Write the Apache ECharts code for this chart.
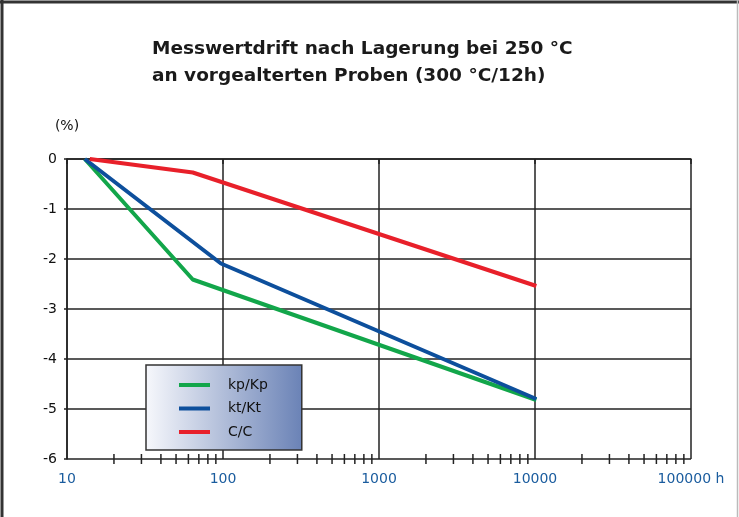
<!DOCTYPE html>
<html>
<head>
<meta charset="utf-8">
<script src="https://cdn.jsdelivr.net/npm/echarts@6/dist/echarts.min.js"></script>
<style>html,body{margin:0;padding:0;background:#fff}#c{width:739px;height:517px}</style>
</head>
<body>
<div id="c"></div>
<script>
var titleLines = ['Messwertdrift nach Lagerung bei 250 °C', 'an vorgealterten Proben (300 °C/12h)'];
var seriesNames = ['kp/Kp', 'kt/Kt', 'C/C'];
var kpData = [[13, 0], [64, -2.41], [10200, -4.82]];
var ktData = [[13, 0], [97, -2.09], [10200, -4.80]];
var ccData = [[14, 0], [64, -0.27], [10200, -2.54]];
var xTickValues = [10, 100, 1000, 10000, 100000];
var minorTickValues = [20,30,40,50,60,70,80,90,200,300,400,500,600,700,800,900,2000,3000,4000,5000,6000,7000,8000,9000,20000,30000,40000,50000,60000,70000,80000,90000];
var yTicks = [-6, -5, -4, -3, -2, -1, 0];
var colors = ['#12a64a', '#0d4f9c', '#e8202a'];

var chart = echarts.init(document.getElementById('c'));
var font = 'DejaVu Sans, Verdana, sans-serif';
chart.setOption({
  animation: false,
  title: {
    text: titleLines.join('\n'),
    left: 147, top: 31,
    textStyle: { fontFamily: font, fontSize: 18.5, fontWeight: 'bold', color: '#1a1a1a', lineHeight: 27 }
  },
  legend: {
    data: seriesNames,
    orient: 'vertical',
    left: 146, top: 365,
    padding: [13, 34, 11, 33],
    itemGap: 9.5,
    itemWidth: 31, itemHeight: 4,
    icon: 'rect',
    textStyle: { fontFamily: font, fontSize: 14, color: '#111', padding: [0, 0, 0, 13] },
    borderColor: '#333', borderWidth: 1.5,
    backgroundColor: new echarts.graphic.LinearGradient(0, 0, 1, 0, [
      { offset: 0, color: '#f7f8fc' }, { offset: 1, color: '#6a82b6' }
    ])
  },
  grid: { left: 67, right: 48, top: 159, bottom: 58 },
  xAxis: {
    type: 'log', logBase: 10, min: 10, max: 100000,
    axisLine: { show: true, lineStyle: { color: '#222', width: 1.5 } },
    axisTick: { show: true, length: 5, lineStyle: { color: '#222', width: 1.5 } },
    splitLine: { show: true, lineStyle: { color: '#222', width: 1.5 } },
    axisLabel: {
      fontFamily: font, fontSize: 14, color: '#1a5c9e', margin: 13,
      formatter: function (v) { return v === xTickValues[xTickValues.length - 1] ? v + ' h' : String(v); }
    }
  },
  yAxis: {
    type: 'value', min: -6, max: 0, interval: 1,
    name: '(%)', nameLocation: 'end', nameGap: 26,
    nameTextStyle: { fontFamily: font, fontSize: 14, color: '#111', align: 'center' },
    axisLine: { show: true, lineStyle: { color: '#222', width: 1.5 } },
    axisTick: { show: true, length: 3, lineStyle: { color: '#222', width: 1.5 } },
    splitLine: { show: true, lineStyle: { color: '#222', width: 1.5 } },
    axisLabel: { fontFamily: font, fontSize: 14, color: '#111', margin: 10 }
  },
  series: [
    { name: seriesNames[0], type: 'line', data: kpData, symbol: 'none', lineStyle: { color: colors[0], width: 4 }, itemStyle: { color: colors[0] } },
    { name: seriesNames[1], type: 'line', data: ktData, symbol: 'none', lineStyle: { color: colors[1], width: 4 }, itemStyle: { color: colors[1] } },
    { name: seriesNames[2], type: 'line', data: ccData, symbol: 'none', lineStyle: { color: colors[2], width: 4 }, itemStyle: { color: colors[2] } },
    {
      name: 'minor', type: 'custom', clip: false, silent: true,
      data: minorTickValues.map(function (v) { return [v, yTicks[0]]; }),
      renderItem: function (params, api) {
        var p = api.coord([api.value(0), api.value(1)]);
        return { type: 'line', shape: { x1: p[0], y1: p[1] - 5, x2: p[0], y2: p[1] + 5 }, style: { stroke: '#222', lineWidth: 1.5 } };
      }
    }
  ],
  graphic: [
    { type: 'line', shape: { x1: 2, y1: 0, x2: 2, y2: 517 }, style: { stroke: '#333', lineWidth: 3 } },
    { type: 'line', shape: { x1: 0, y1: 2, x2: 739, y2: 2 }, style: { stroke: '#333', lineWidth: 3 } },
    { type: 'line', shape: { x1: 737.5, y1: 0, x2: 737.5, y2: 517 }, style: { stroke: '#bbb', lineWidth: 1.5 } }
  ]
});
</script>
</body>
</html>
